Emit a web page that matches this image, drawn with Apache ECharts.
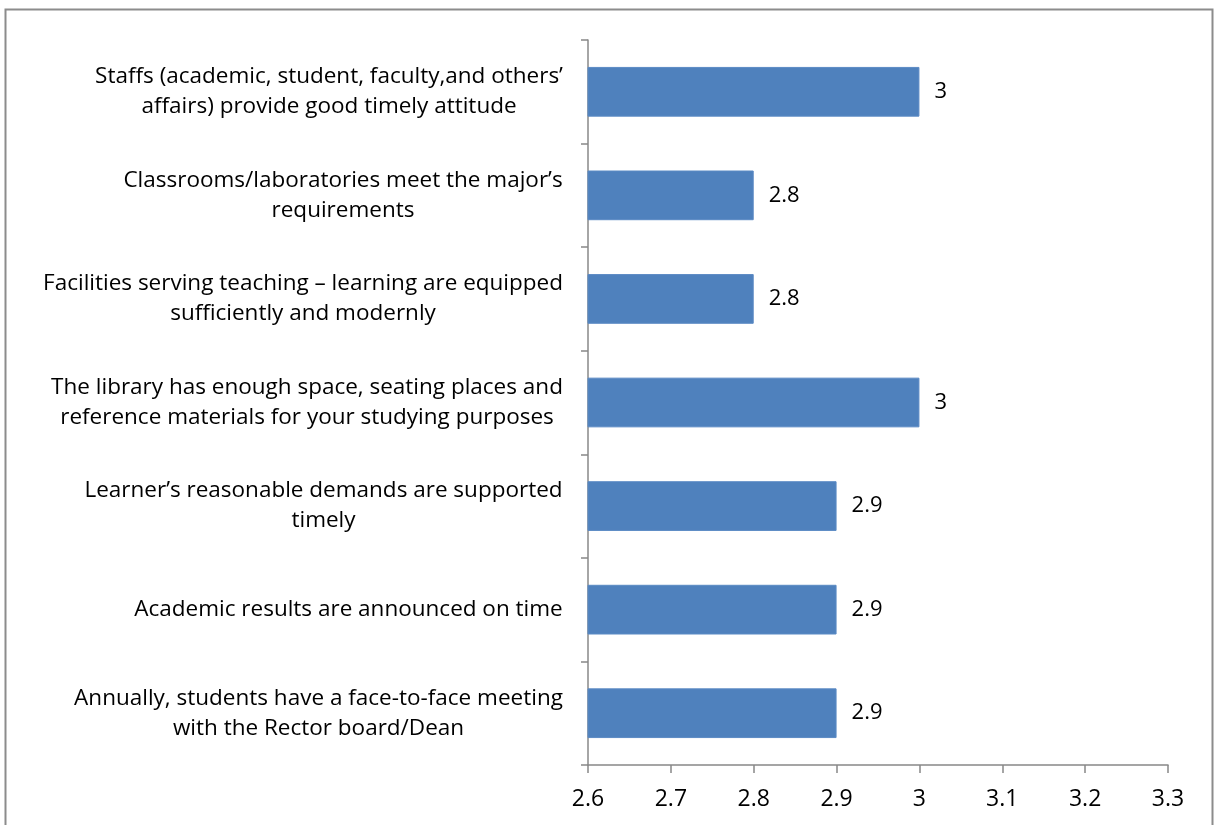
<!DOCTYPE html>
<html>
<head>
<meta charset="utf-8">
<script src="https://cdn.jsdelivr.net/npm/echarts@6/dist/echarts.min.js"></script>
<style>
html,body{margin:0;padding:0;background:#fff;}
#chart{width:1216px;height:825px;}
</style>
</head>
<body>
<div id="chart"></div>
<script>
const categories = [
  "Staffs (academic, student, faculty,and others’\naffairs) provide good timely attitude",
  "Classrooms/laboratories meet the major’s\nrequirements",
  "Facilities serving teaching – learning are equipped\nsufficiently and modernly",
  "The library has enough space, seating places and\nreference materials for your studying purposes",
  "Learner’s reasonable demands are supported\ntimely",
  "Academic results are announced on time",
  "Annually, students have a face-to-face meeting\nwith the Rector board/Dean"
];
const values = [3, 2.8, 2.8, 3, 2.9, 2.9, 2.9];
const xTicks = [2.6, 2.7, 2.8, 2.9, 3, 3.1, 3.2, 3.3];

const fontName = "'Open Sans', 'Noto Sans', sans-serif";
const labelSize = 22.5;

// measure widest line of each label so lines can be centred within the block
const ctx = document.createElement('canvas').getContext('2d');
ctx.font = labelSize + 'px ' + fontName;
const rich = {};
categories.forEach((c, i) => {
  const w = Math.max(...c.split('\n').map(l => ctx.measureText(l).width));
  rich['r' + i] = {
    width: Math.ceil(w) + 2, align: 'center',
    fontSize: labelSize, fontFamily: fontName, color: '#000', lineHeight: 30
  };
});

const chart = echarts.init(document.getElementById('chart'));
chart.setOption({
  animation: false,
  backgroundColor: '#fff',
  graphic: [{
    type: 'rect',
    shape: {x: 5.5, y: 9.5, width: 1207, height: 830},
    style: {fill: 'none', stroke: '#8c8c8c', lineWidth: 2}
  }],
  grid: {left: 588, right: 48, top: 40, bottom: 60},
  xAxis: {
    type: 'value',
    min: xTicks[0],
    max: xTicks[xTicks.length - 1],
    interval: 0.1,
    axisLine: {show: true, lineStyle: {color: '#888', width: 1.5}},
    axisTick: {show: true, length: 8, lineStyle: {color: '#888', width: 1.5}},
    splitLine: {show: false},
    axisLabel: {
      color: '#000', fontSize: 23, fontFamily: fontName, margin: 23,
      formatter: v => String(Math.round(v * 10) / 10)
    }
  },
  yAxis: {
    type: 'category',
    data: categories,
    inverse: true,
    axisLine: {show: true, lineStyle: {color: '#888', width: 1.5}},
    axisTick: {show: true, length: 7, lineStyle: {color: '#888', width: 1.5}},
    axisLabel: {
      align: 'right', margin: 24,
      formatter: (val, idx) => val.split('\n').map(l => '{r' + idx + '|' + l + '}').join('\n'),
      rich: rich
    }
  },
  series: [{
    type: 'bar',
    data: values,
    barWidth: '48%',
    itemStyle: {color: '#4f81bd', borderColor: '#5b8ac4', borderWidth: 1},
    label: {
      show: true, position: 'right', distance: 15,
      color: '#000', fontSize: 22, fontFamily: fontName
    }
  }]
});
</script>
</body>
</html>
